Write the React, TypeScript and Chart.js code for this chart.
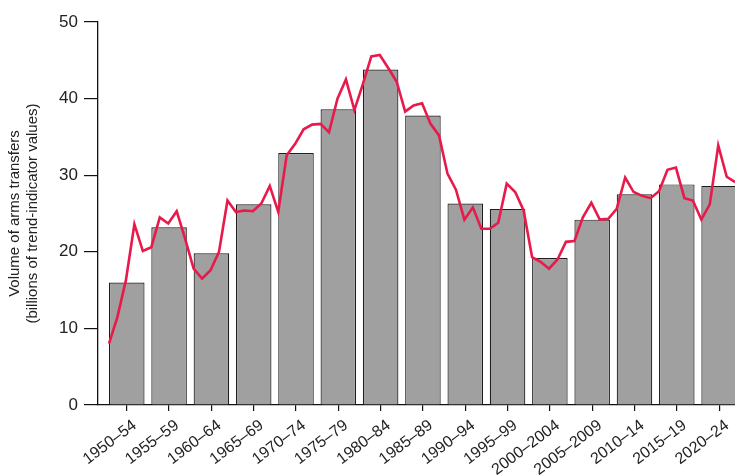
import { useEffect, useRef } from 'react';
import { Chart, registerables } from 'chart.js';

Chart.register(...registerables);

const PERIODS = [
  '1950–54', '1955–59', '1960–64', '1965–69', '1970–74', '1975–79', '1980–84', '1985–89',
  '1990–94', '1995–99', '2000–2004', '2005–2009', '2010–14', '2015–19', '2020–24',
];
const PERIOD_START = [1950, 1955, 1960, 1965, 1970, 1975, 1980, 1985, 1990, 1995, 2000, 2005, 2010, 2015, 2020];
const PERIOD_VALUES = [16.0, 23.2, 19.8, 26.2, 32.9, 38.6, 43.8, 37.8, 26.3, 25.6, 19.2, 24.2, 27.5, 28.8, 28.6];

const YEARS = [
  1950, 1951, 1952, 1953, 1954, 1955, 1956, 1957, 1958, 1959,
  1960, 1961, 1962, 1963, 1964, 1965, 1966, 1967, 1968, 1969,
  1970, 1971, 1972, 1973, 1974, 1975, 1976, 1977, 1978, 1979,
  1980, 1981, 1982, 1983, 1984, 1985, 1986, 1987, 1988, 1989,
  1990, 1991, 1992, 1993, 1994, 1995, 1996, 1997, 1998, 1999,
  2000, 2001, 2002, 2003, 2004, 2005, 2006, 2007, 2008, 2009,
  2010, 2011, 2012, 2013, 2014, 2015, 2016, 2017, 2018, 2019,
  2020, 2021, 2022, 2023, 2024,
];
const ANNUAL_VALUES = [
  8.0, 11.5, 16.3, 23.6, 20.1, 20.6, 24.5, 23.7, 25.3, 21.7,
  17.8, 16.5, 17.6, 20.0, 26.7, 25.2, 25.4, 25.3, 26.3, 28.6,
  25.2, 32.6, 34.1, 36.0, 36.6, 36.7, 35.6, 40.0, 42.5, 38.5,
  41.9, 45.5, 45.7, 44.0, 42.2, 38.3, 39.1, 39.4, 36.7, 35.2,
  30.2, 28.1, 24.2, 25.8, 23.0, 23.0, 23.8, 28.9, 27.8, 25.4,
  19.3, 18.7, 17.8, 19.0, 21.3, 21.4, 24.5, 26.4, 24.2, 24.3,
  25.6, 29.7, 27.8, 27.3, 27.0, 27.9, 30.7, 31.0, 27.0, 26.7,
  24.2, 26.2, 33.9, 29.8, 29.1,
];

const Y_MIN = 0;
const Y_MAX = 50;
const Y_STEP = 10;
const Y_TITLE = ['Volume of arms transfers', '(billions of trend-indicator values)'];

// bar centred within its five-year period (bar spans roughly the first 4.2 years)
const BAR_CENTER_OFFSET = 2.1;
const X_MIN = 1948.7;
const X_MAX = 2025.16;

const FONT = "'Liberation Sans', Arial, sans-serif";
const TEXT = '#222222';

export default function App() {
  const ref = useRef<HTMLCanvasElement | null>(null);

  useEffect(() => {
    if (!ref.current) return;
    const barCenters = PERIOD_START.map((s) => s + BAR_CENTER_OFFSET);
    const chart = new Chart(ref.current, {
      data: {
        datasets: [
          {
            type: 'line',
            data: YEARS.map((y, i) => ({ x: y, y: ANNUAL_VALUES[i] })),
            borderColor: '#e8194b',
            borderWidth: 2.6,
            pointRadius: 0,
            tension: 0,
            fill: false,
            order: 0,
            xAxisID: 'x',
          },
          {
            type: 'bar',
            data: barCenters.map((c, i) => ({ x: c, y: PERIOD_VALUES[i] })),
            backgroundColor: '#a0a0a0',
            borderColor: '#1e1e1e',
            borderWidth: 1.2,
            barPercentage: 0.84,
            categoryPercentage: 1,
            order: 1,
            xAxisID: 'x',
          },
        ],
      },
      options: {
        animation: false,
        responsive: false,
        layout: { padding: { top: 22, right: 15, bottom: 0, left: 0 } },
        plugins: { legend: { display: false }, tooltip: { enabled: false } },
        scales: {
          x: {
            type: 'linear',
            min: X_MIN,
            max: X_MAX,
            offset: false,
            afterBuildTicks: (scale: any) => {
              scale.ticks = barCenters.map((v) => ({ value: v }));
            },
            afterFit: (scale: any) => {
              scale.height = 70;
              scale.paddingLeft = 0;
              scale.paddingRight = 0;
            },
            grid: { offset: false, drawOnChartArea: false, drawTicks: true, tickLength: 6, color: '#111', lineWidth: 1.2 },
            border: { display: true, color: '#111', width: 1.3 },
            ticks: {
              autoSkip: false,
              minRotation: 37,
              maxRotation: 37,
              padding: 5,
              labelOffset: 8,
              color: TEXT,
              font: { family: FONT, size: 16 },
              callback: (_v: any, i: number) => PERIODS[i],
            },
          },
          y: {
            type: 'linear',
            min: Y_MIN,
            max: Y_MAX,
            afterFit: (scale: any) => {
              scale.width = 98;
            },
            grid: { drawOnChartArea: false, drawTicks: true, tickLength: 14, color: '#111', lineWidth: 1.2 },
            border: { display: true, color: '#111', width: 1.3 },
            ticks: {
              stepSize: Y_STEP,
              padding: 6,
              color: TEXT,
              font: { family: FONT, size: 17 },
            },
            title: {
              display: true,
              text: Y_TITLE,
              color: TEXT,
              font: { family: FONT, size: 15, lineHeight: 1.2 },
              padding: { top: 6, bottom: 0 },
            },
          },
        },
      },
    } as any);
    return () => chart.destroy();
  }, []);

  return (
    <div style={{ position: 'absolute', left: 0, top: 0, width: 735, height: 475, overflow: 'hidden', background: '#fff' }}>
      <canvas ref={ref} width={760} height={475} style={{ display: 'block' }} />
    </div>
  );
}
